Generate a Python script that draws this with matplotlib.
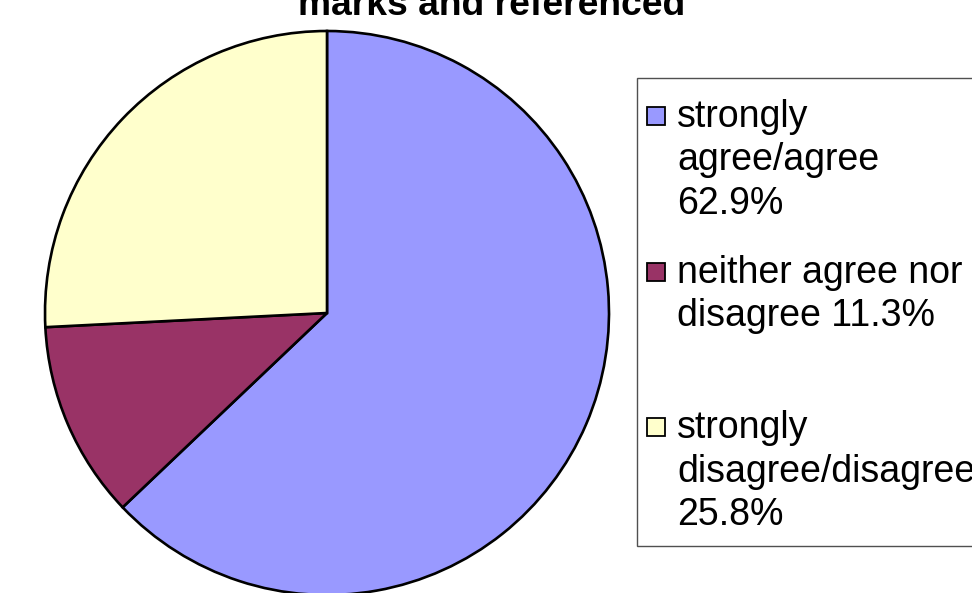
import matplotlib
matplotlib.use("Agg")
import matplotlib.pyplot as plt
from matplotlib.patches import Rectangle

plt.rcParams['font.family'] = ['Liberation Sans', 'DejaVu Sans']

# data
categories = ['strongly agree/agree', 'neither agree nor disagree', 'strongly disagree/disagree']
shares = [62.9, 11.3, 25.8]
colors = ['#9999FF', '#993366', '#FFFFCC']
# how each legend label is wrapped (as in the original chart)
legend_lines = [
    ['strongly', 'agree/agree', '62.9%'],
    ['neither agree nor', 'disagree 11.3%'],
    ['strongly', 'disagree/disagree', '25.8%'],
]

W, H = 972, 593
fig = plt.figure(figsize=(W / 100, H / 100), dpi=100)

def fx(px):
    return px / W

def fy(py):
    return (H - py) / H

# pie, centred at (327, 313) px with radius 282 px
cx, cy, r = 327, 313, 282
ax = fig.add_axes([fx(cx - r), fy(cy + r), 2 * r / W, 2 * r / H])
ax.pie(shares, colors=colors, startangle=90, counterclock=False,
       wedgeprops=dict(edgecolor='black', linewidth=1.9))
ax.set_xlim(-1, 1)
ax.set_ylim(-1, 1)
ax.axis('off')

# title (top part is cut off in the original)
fig.text(fx(492), fy(15), 'marks and referenced', fontsize=26.8, fontweight='bold',
         ha='center', va='baseline')

# legend box
fig.patches.append(Rectangle((fx(637), fy(546)), fx(400), fy(78) - fy(546),
                             transform=fig.transFigure, facecolor='white',
                             edgecolor='#505050', linewidth=1.0))

first_baselines = [127, 283, 438]
pitch = 43.5
for lines, base, col in zip(legend_lines, first_baselines, colors):
    fig.patches.append(Rectangle((fx(647), fy(base - 2)), fx(18), fy(base - 20) - fy(base - 2),
                                 transform=fig.transFigure, facecolor=col,
                                 edgecolor='black', linewidth=1.3))
    for i, line in enumerate(lines):
        fig.text(fx(677), fy(base + i * pitch), line, fontsize=27,
                 ha='left', va='baseline')

fig.savefig('out.png', dpi=100)
